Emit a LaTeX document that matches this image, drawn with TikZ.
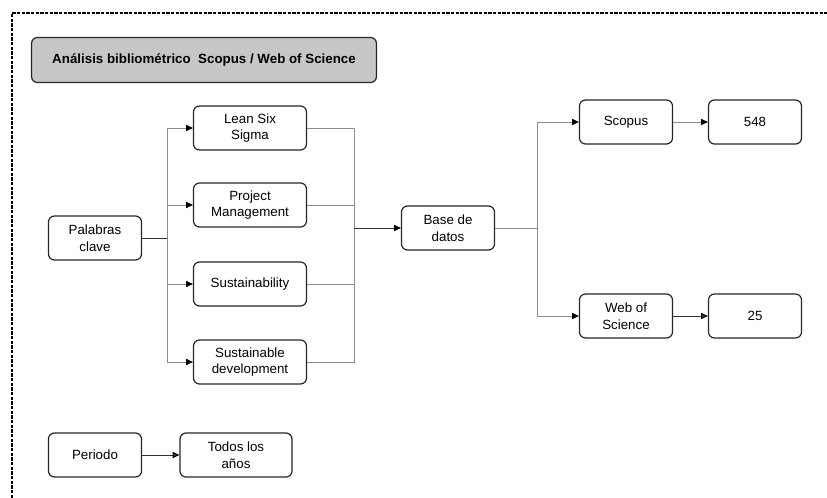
\documentclass[tikz,border=0pt]{standalone}
\usepackage{fontspec}
\setmainfont{Liberation Sans}
\usetikzlibrary{arrows.meta}

\begin{document}
\begin{tikzpicture}[x=0.75pt,y=-0.75pt,->,>={Triangle[black,length=5pt,width=4.5pt]},
    draw=black!45,font=\fontsize{10}{12.5}\selectfont]
  \tikzstyle{module}=[rectangle,draw=black!85,line width=0.9pt,rounded corners=4.5pt,
    minimum width=69.75pt,minimum height=33pt,inner sep=2pt,align=center]
  \tikzstyle{wide}=[module,minimum width=84.75pt]
  \tikzstyle{header}=[module,fill=black!22,minimum width=258.75pt,minimum height=33.75pt]
  \tikzstyle{wire}=[draw=black!45,line width=0.7pt]

  \useasboundingbox (0,0) rectangle (827,498);
  \draw[-,black,line width=0.8pt,dash pattern=on 2.4pt off 1.1pt] (12,498) -- (12,13) -- (827,13);

  \node[header] (head) at (204,60) {\textbf{Análisis bibliométrico~ Scopus / Web of Science}};

  \node[module] (palabras) at (95,238) {Palabras\\clave};
  \node[wide] (lss) at (250,128) {Lean Six\\Sigma};
  \node[wide] (pm) at (250,205) {Project\\Management};
  \node[wide] (sust) at (250,284) {Sustainability};
  \node[wide] (sdev) at (250,362) {Sustainable\\development};
  \node[module] (base) at (448,228) {Base de\\datos};
  \node[module] (scopus) at (626,122) {Scopus};
  \node[module] (n548) at (755,122) {548};
  \node[module] (wos) at (626,316) {Web of\\Science};
  \node[module] (n25) at (755,316) {25};
  \node[module] (periodo) at (95,455) {Periodo};
  \node[wide,minimum width=84pt] (todos) at (236,455) {Todos los\\años};

  \coordinate (split) at (167,238);
  \coordinate (join) at (354,228);
  \coordinate (fork) at (537,228);

  \draw[-,black!80,line width=0.7pt] (palabras) -- (split);
  \draw[wire] (split) |- (lss);
  \draw[wire] (split) |- (pm);
  \draw[wire] (split) |- (sust);
  \draw[wire] (split) |- (sdev);
  \draw[wire,-] (lss) -| (join);
  \draw[wire,-] (pm) -| (join);
  \draw[wire,-] (sust) -| (join);
  \draw[wire,-] (sdev) -| (join);
  \draw[wire,black!80] (join) -- (base);
  \draw[wire,-] (base) -- (fork);
  \draw[wire] (fork) |- (scopus);
  \draw[wire] (fork) |- (wos);
  \path[wire] (scopus) edge (n548);
  \path[wire,black!80] (wos) edge (n25);
  \path[wire,black!80] (periodo) edge (todos);
\end{tikzpicture}
\end{document}
